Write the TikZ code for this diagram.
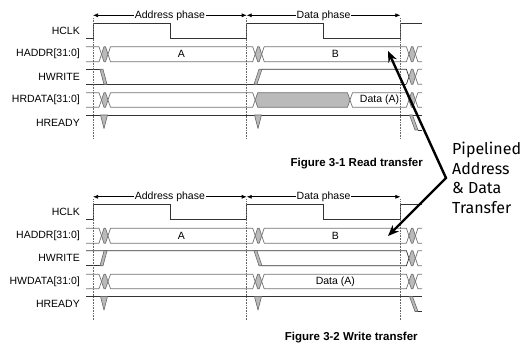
\documentclass[tikz,border=0pt]{standalone}
\usepackage{fontspec}
\setmainfont{Liberation Sans}
\newfontfamily\notefont{Fira Sans}
\usetikzlibrary{arrows.meta,positioning,calc}

\colorlet{lensgrey}{black!27}
\newcommand{\sigfont}{\fontsize{10.5}{12}\selectfont}
\newcommand{\crossw}{2.5}
% open start of a bus, closing at crossing #2
\newcommand{\busopen}[4]{\draw[busline] (#1,#3) -- (#2-\crossw,#3) -- (#2,{(#3+#4)/2}) -- (#2-\crossw,#4) -- (#1,#4);}
% open end of a bus after crossing #1
\newcommand{\busend}[4]{\draw[busline] (#2,#3) -- (#1+\crossw,#3) -- (#1,{(#3+#4)/2}) -- (#1+\crossw,#4) -- (#2,#4);}
% one bus value between crossings #1 and #2
\newcommand{\busval}[5]{\draw[busline, fill=#5] (#1,{(#3+#4)/2}) -- (#1+\crossw,#3) -- (#2-\crossw,#3) -- (#2,{(#3+#4)/2}) -- (#2-\crossw,#4) -- (#1+\crossw,#4) -- cycle;}

\begin{document}
\begin{tikzpicture}[x=1pt, y=-1pt,
    wave/.style={draw=black!80, line width=0.7pt},
    busline/.style={draw=black!55, line width=0.7pt, line join=round},
    slope/.style={draw=black!60, fill=lensgrey, line width=0.6pt, line join=round},
    grid/.style={draw=black!60, densely dotted, line width=0.6pt},
    phase/.style={draw=black, line width=0.6pt, {Latex[length=5pt,width=4pt]}-{Latex[length=5pt,width=4pt]}},
    phaselbl/.style={fill=white, inner xsep=1pt, inner ysep=0pt, font=\sigfont},
    sig/.style={inner sep=0pt, font=\sigfont},
    signame/.style={sig, anchor=east},
    caption/.style={anchor=base, inner sep=0pt, font=\bfseries\fontsize{11.5}{13}\selectfont},
    bigarr/.style={line width=2.4pt, {Stealth[length=11pt,width=9pt]}-{Stealth[length=11pt,width=9pt]}},
    note/.style={align=left, anchor=west, inner xsep=6pt, inner ysep=0pt, font=\notefont\fontsize{16}{19.5}\selectfont}
  ]
  \useasboundingbox (0,0) rectangle (523,347);

  % parts common to both transfers
  \foreach \oy/\k in {0/r,181.5/w}{
  \begin{scope}[shift={(0,\oy)}]
    \coordinate (t0\k) at (93,15.3);
    \coordinate (t1\k) at (246.7,15.3);
    \coordinate (t2\k) at (400.4,15.3);
    \draw[phase] (t0\k) -- node[phaselbl] (aph\k) {Address phase} (t1\k);
    \draw[phase] (t1\k) -- node[phaselbl] (dph\k) {Data phase} (t2\k);
    % HCLK
    \draw[wave] (86,38) -| (93,23.3) -| (170,38) -| (246.7,23.3) -| (323.3,38) -| (400.4,23.3) -- (422,23.3);
    % HADDR
    \busopen{86}{101.5}{46.7}{61.7}
    \foreach \a/\b/\f in {101.5/108/lensgrey,108/255.2/white,255.2/261.7/lensgrey,261.7/408.9/white,408.9/415.4/lensgrey}
      \busval{\a}{\b}{46.7}{61.7}{\f};
    \busend{415.4}{422}{46.7}{61.7}
    \node[sig] (va\k) at (181.5,54.2) {A};
    \node[sig] (vb\k) at (335.3,54.2) {B};
    % HREADY
    \draw[wave] (86,115) -- (422,115);
    \foreach \x in {104,258}
      \draw[slope] (\x-3.5,115) -- (\x+3.5,115) -- (\x,128.5) -- cycle;
    \draw[slope] (409.5,115) -- (412.5,115) -- (418,130) -- (415,130) -- cycle;
    \draw[wave] (418,130) -- (422,130);
    \node[signame] (hclk\k) at (80,30.8) {HCLK};
    \node[signame] (haddr\k) at (80,54.2) {HADDR[31:0]};
    \node[signame] (hwrite\k) at (80,76.8) {HWRITE};
    \node[signame] (hready\k) at (80,122.5) {HREADY};
  \end{scope}}

  % read transfer
  \draw[wave] (86,84.3) -- (406.4,84.3);
  \draw[wave] (86,69.3) -- (100,69.3);
  \draw[slope] (100,69.3) -- (103,69.3) -- (107,84.3) -- (104,84.3) -- cycle;
  \draw[slope] (254,84.3) -- (257,84.3) -- (262,69.3) -- (259,69.3) -- cycle;
  \draw[wave] (262,69.3) -- (406.4,69.3) -- (408.9,76.8) -- (406.4,84.3);
  \busval{408.9}{415.4}{69.3}{84.3}{lensgrey}
  \busend{415.4}{422}{69.3}{84.3}
  \busopen{86}{101.5}{92.7}{107.3}
  \foreach \a/\b/\f in {101.5/108/lensgrey,108/255.2/white,255.2/350/lensgrey,350/408.9/white,408.9/415.4/lensgrey}
    \busval{\a}{\b}{92.7}{107.3}{\f};
  \busend{415.4}{422}{92.7}{107.3}
  \node[sig] (rdata) at (379.5,100) {Data (A)};
  \node[signame] (hrdata) at (80,100) {HRDATA[31:0]};
  \node[caption] (capr) at (356.7,166.6) {Figure 3-1 Read transfer};

  % write transfer
  \begin{scope}[shift={(0,181.5)}]
    \draw[wave] (86,69.3) -- (406.4,69.3) -- (408.9,76.8) -- (406.4,84.3) -- (262,84.3);
    \draw[wave] (86,84.3) -- (100,84.3);
    \draw[slope] (100,84.3) -- (103,84.3) -- (107,69.3) -- (104,69.3) -- cycle;
    \draw[slope] (254,69.3) -- (257,69.3) -- (262,84.3) -- (259,84.3) -- cycle;
    \busval{408.9}{415.4}{69.3}{84.3}{lensgrey}
    \busend{415.4}{422}{69.3}{84.3}
    \busopen{86}{101.5}{92.7}{107.3}
    \foreach \a/\b/\f in {101.5/108/lensgrey,108/255.2/white,255.2/261.7/lensgrey,261.7/408.9/white,408.9/415.4/lensgrey}
      \busval{\a}{\b}{92.7}{107.3}{\f};
    \busend{415.4}{422}{92.7}{107.3}
    \node[sig] (wdata) at (335.3,100) {Data (A)};
    \node[signame] (hwdata) at (80,100) {HWDATA[31:0]};
  \end{scope}
  \node[caption] (capw) at (351.3,340.8) {Figure 3-2 Write transfer};

  % clock edges
  \foreach \oy in {0,181.5}
    \foreach \x in {93,246.7,400.4}
      \draw[grid] (\x,18+\oy) -- (\x,138.5+\oy);

  % pipelining note
  \node[note] (pipenote) at (446,178) {Pipelined\\Address\\\& Data\\Transfer};
  \coordinate (tipr) at (388,51);
  \coordinate (tipw) at (388,236);
  \draw[bigarr] (tipr) -- (pipenote.west) -- (tipw);
\end{tikzpicture}
\end{document}
